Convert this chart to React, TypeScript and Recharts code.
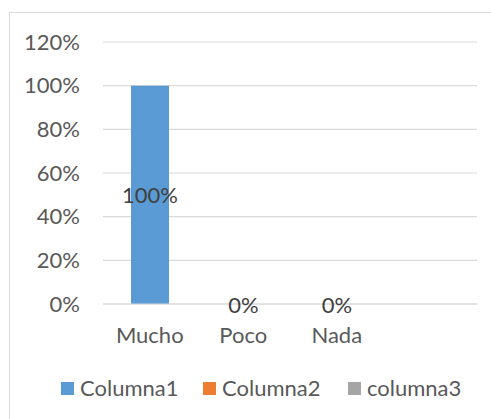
import React from "react";
import { BarChart, Bar, XAxis, YAxis, CartesianGrid, Legend, LabelList } from "recharts";

// Survey answers per category; the trailing blank category keeps an empty slot on the right
const categories = ["Mucho", "Poco", "Nada", ""];
const columna1 = [1, 0, 0, null];
const yTicks = [0, 0.2, 0.4, 0.6, 0.8, 1, 1.2];

const seriesNames = ["Columna1", "Columna2", "columna3"];
const seriesColors = ["#5b9bd5", "#ed7d31", "#a5a5a5"];

const data = categories.map((name, i) => ({ name, Columna1: columna1[i] }));

const FONT = "Lato, 'Noto Sans', sans-serif";
const FS = 22;
const TEXT = "#595959";
const GRID = "#d9d9d9";

const pct = (v: any) => (v === null || v === undefined ? "" : `${Math.round(Number(v) * 100)}%`);

const legendLefts = [61, 203, 348];

const LegendContent = () => (
  <div style={{ position: "relative", width: 491, height: 24, fontFamily: FONT, fontSize: FS, color: TEXT }}>
    {seriesNames.map((n, i) => (
      <div
        key={n}
        style={{ position: "absolute", left: legendLefts[i], top: 0, height: 24, display: "flex", alignItems: "center", whiteSpace: "nowrap" }}
      >
        <span style={{ display: "inline-block", width: 13, height: 13, background: seriesColors[i], marginRight: 6 }} />
        <span style={{ lineHeight: "24px" }}>{n}</span>
      </div>
    ))}
  </div>
);

// Value label drawn at the middle of each bar, including zero-height bars
const CenterLabel = (props: any) => {
  const { x, y, width, height, value } = props;
  if (value === null || value === undefined) return null;
  const cx = Number(x) + Number(width) / 2;
  const cy = Number(y) + Number(height) / 2 + (Number(value) === 0 ? 1 : 0);
  return (
    <text x={cx} y={cy} dy="0.355em" textAnchor="middle" fill="#404040" fontSize={FS} fontFamily={FONT}>
      {pct(value)}
    </text>
  );
};

export default function App() {
  return (
    <div style={{ position: "absolute", left: 0, top: 0, width: 491, height: 419, background: "#fff", overflow: "hidden" }}>
      <div
        style={{
          position: "absolute",
          left: 9,
          top: 12,
          width: 600,
          height: 500,
          border: `1px solid ${GRID}`,
          boxSizing: "border-box",
        }}
      />
      <BarChart
        width={491}
        height={419}
        data={data}
        margin={{ top: 42, right: 14, left: 0, bottom: 19 }}
        style={{ position: "absolute", left: 0, top: 0 }}
      >
        <CartesianGrid horizontal vertical={false} stroke={GRID} strokeWidth={1.2} />
        <XAxis
          dataKey="name"
          height={72}
          tickLine={false}
          tickSize={0}
          tickMargin={23}
          axisLine={{ stroke: GRID, strokeWidth: 1.2 }}
          tick={{ fill: TEXT, fontSize: FS, fontFamily: FONT }}
          interval={0}
        />
        <YAxis
          width={103}
          domain={[0, 1.2]}
          ticks={yTicks}
          tickFormatter={pct}
          axisLine={false}
          tickLine={false}
          tickSize={0}
          tickMargin={23}
          tick={{ fill: TEXT, fontSize: FS, fontFamily: FONT }}
        />
        <Legend verticalAlign="bottom" wrapperStyle={{ left: 0, width: 491 }} content={<LegendContent />} />
        <Bar dataKey="Columna1" fill={seriesColors[0]} barSize={38} minPointSize={0.01} isAnimationActive={false}>
          <LabelList dataKey="Columna1" content={CenterLabel} />
        </Bar>
      </BarChart>
    </div>
  );
}
